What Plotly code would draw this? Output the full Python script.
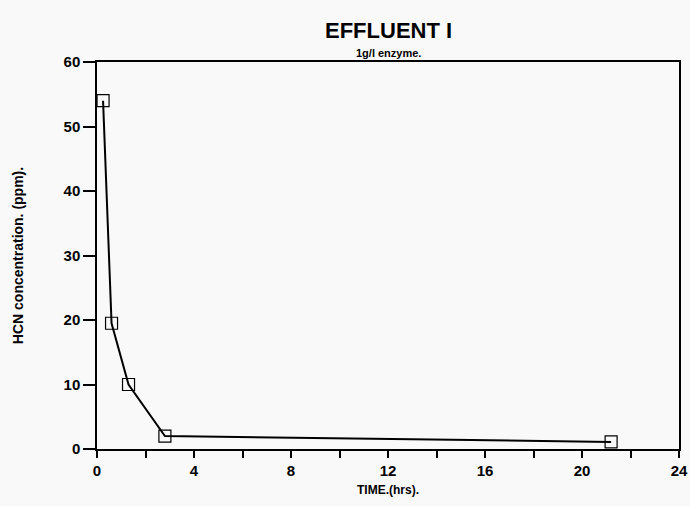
import plotly.graph_objects as go

# data
time_hrs = [0.25, 0.6, 1.3, 2.8, 21.2]
hcn_ppm = [54.0, 19.5, 10.0, 2.0, 1.1]
x_ticks = [0, 4, 8, 12, 16, 20, 24]
y_ticks = [0, 10, 20, 30, 40, 50, 60]

FONT = "Liberation Sans, Arial, sans-serif"

fig = go.Figure()
fig.add_trace(
    go.Scatter(
        x=time_hrs,
        y=hcn_ppm,
        mode="lines+markers",
        line=dict(color="black", width=2),
        marker=dict(symbol="square-open", size=12, color="black", line=dict(width=1.2)),
        showlegend=False,
    )
)

axis_common = dict(
    showline=True,
    linecolor="black",
    linewidth=1.5,
    mirror=True,
    showgrid=False,
    zeroline=False,
    automargin=False,
    ticks="outside",
    tickcolor="black",
    tickfont=dict(family=FONT, size=15, color="black", weight="bold"),
)

fig.update_layout(
    width=690,
    height=506,
    margin=dict(l=97, r=11, t=62, b=57),
    paper_bgcolor="#f9f9f9",
    plot_bgcolor="#f9f9f9",
    xaxis=dict(
        range=[0, 24],
        tickvals=x_ticks,
        ticklen=7,
        tickwidth=1.5,
        minor=dict(dtick=2, ticks="outside", ticklen=7, tickcolor="black", tickwidth=1.5),
        title=dict(text="TIME.(hrs).", font=dict(family=FONT, size=12, color="black", weight="bold"), standoff=8),
        **axis_common,
    ),
    yaxis=dict(
        range=[0, 60],
        tickvals=y_ticks,
        ticklen=12,
        tickwidth=1.5,
        title=dict(text="HCN concentration. (ppm).", font=dict(family=FONT, size=14, color="black", weight="bold"), standoff=37),
        **axis_common,
    ),
    annotations=[
        dict(
            text="<b>EFFLUENT I</b>",
            xref="paper", yref="paper", x=0.5, y=1, yshift=17,
            showarrow=False, xanchor="center", yanchor="bottom",
            font=dict(family=FONT, size=22, color="black"),
        ),
        dict(
            text="<b>1g/l enzyme.</b>",
            xref="paper", yref="paper", x=0.5, y=1, yshift=1,
            showarrow=False, xanchor="center", yanchor="bottom",
            font=dict(family=FONT, size=11, color="black"),
        ),
    ],
)

# drop the default 8px body margin so the figure sits at the window's corner
fig.write_html(
    "out.html",
    config={"displayModeBar": False},
    post_script="document.body.style.margin='0';document.body.style.overflow='hidden';",
)
